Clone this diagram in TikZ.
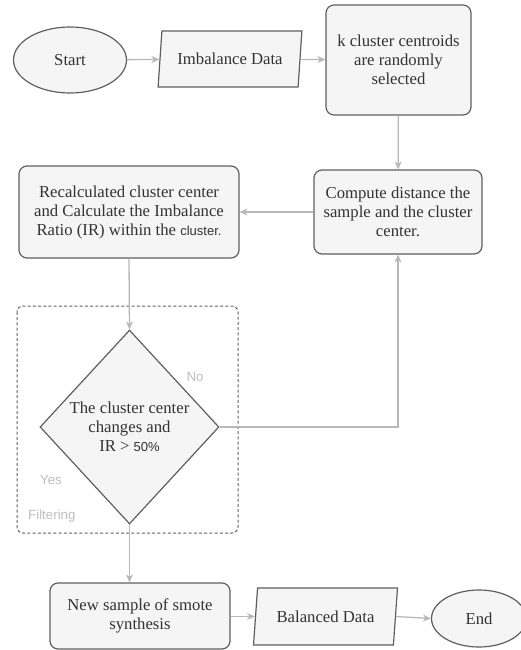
\documentclass[tikz,border=0pt]{standalone}
\usepackage{fontspec}
\setmainfont{Liberation Serif}
\newfontfamily\sansf{Liberation Sans}
\usetikzlibrary{shapes.geometric,arrows.meta}
\definecolor{shapeline}{HTML}{5F5F5F}
\definecolor{shapefill}{HTML}{F5F5F5}
\definecolor{linkcol}{HTML}{B8B8B8}
\definecolor{txtcol}{HTML}{333333}
\definecolor{labcol}{HTML}{BDBDBD}
\newcommand{\sfsmall}{\sansf\fontsize{13}{19}\selectfont}
\tikzset{
  base/.style={draw=shapeline, fill=shapefill, line width=1.2pt, text=txtcol,
    font=\fontsize{16.7}{19}\selectfont, align=center, inner sep=0pt},
  terminal/.style={base, ellipse},
  iobox/.style={base, trapezium, trapezium left angle=76, trapezium right angle=104,
    trapezium stretches=true},
  procbox/.style={base, rectangle, rounded corners=8pt},
  decision/.style={base, diamond, aspect=0.92},
  link/.style={draw=linkcol, line width=1.3pt, -{Stealth[length=8pt,width=7pt,inset=2.5pt]}},
  lab/.style={text=labcol, font=\sansf\fontsize{13.3}{16}\selectfont, inner sep=0pt},
  group/.style={draw=shapeline, line width=1pt, dash pattern=on 3pt off 2.2pt, rounded corners=6pt}
}
\begin{document}
\begin{tikzpicture}[x=1pt, y=-1pt]
  \clip (0,0) rectangle (521,650);
  \useasboundingbox (0,0) rectangle (521,650);

  % dashed filtering group
  \draw[group] (17,306) rectangle (238,533);
  \node[lab, anchor=west] (filt) at (28,516) {Filtering};

  % top row
  \node[terminal, minimum width=113pt, minimum height=66pt] (start) at (70,60) {Start};
  \node[iobox, minimum width=144pt, minimum height=56pt] (imb) at (230,59) {Imbalance Data};
  \node[procbox, minimum width=145pt, minimum height=110pt] (kc) at (398.5,60)
    {k cluster centroids\\are randomly\\selected};

  % middle row
  \node[procbox, minimum width=168pt, minimum height=84pt] (dist) at (398,212)
    {Compute distance the\\sample and the cluster\\center.};
  \node[procbox, minimum width=220pt, minimum height=92pt] (recalc) at (129,212)
    {Recalculated cluster center\\and Calculate the Imbalance\\Ratio (IR) within the {\sfsmall cluster.}};

  % decision
  \node[decision, minimum width=179pt, minimum height=194pt] (dec) at (129.5,427)
    {The cluster center\\changes and\\IR > {\sfsmall 50\%}};
  \node[lab] (no) at (195,377) {No};
  \node[lab] (yes) at (51,480) {Yes};

  % bottom row
  \node[procbox, minimum width=180pt, minimum height=66pt] (smote) at (140,616)
    {New sample of smote\\synthesis};
  \node[iobox, minimum width=144pt, minimum height=57pt] (bal) at (325.5,616.5) {Balanced Data};
  \node[terminal, minimum width=95pt, minimum height=57pt] (fin) at (479,618.5) {End};

  % connectors
  \draw[link] (start) -- (imb);
  \draw[link] (imb) -- (kc);
  \draw[link] (kc) -- (dist);
  \draw[link] (dist) -- (recalc);
  \draw[link] (recalc.south |- recalc.south) -- (dec.north);
  \draw[link] (dec.east) -| (dist.south);
  \draw[link] (dec.south) -- (dec.south |- smote.north);
  \draw[link] (smote.east |- bal.west) -- (bal.west);
  \draw[link] (bal.east) -- (fin.west);
\end{tikzpicture}
\end{document}
